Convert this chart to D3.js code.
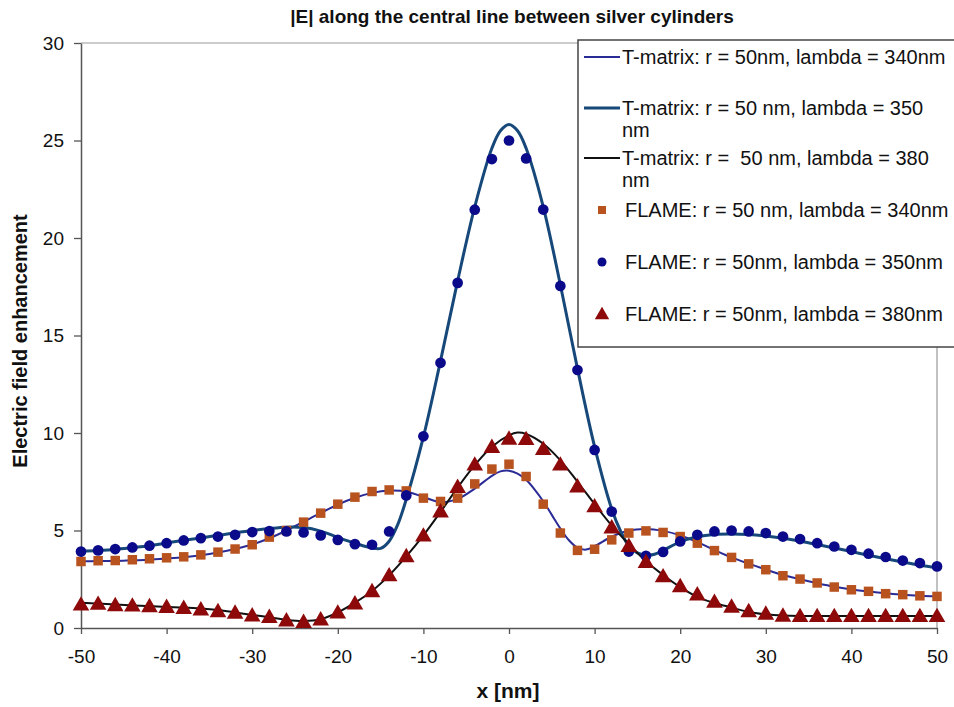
<!DOCTYPE html>
<html>
<head>
<meta charset="utf-8">
<script src="https://cdn.jsdelivr.net/npm/d3@7"></script>
<style>
  body { margin: 0; background: #fff; }
  svg text { font-family: "Liberation Sans", Arial, sans-serif; }
</style>
</head>
<body>
<div id="chart"></div>
<script>
// FLAME samples, every 2 nm from -50 to 50
var flameX = d3.range(-50, 51, 2);
var flame340 = [3.41, 3.45, 3.46, 3.5, 3.55, 3.6, 3.65, 3.75, 3.89, 4.05, 4.27, 4.66, 5.0, 5.43, 5.89, 6.35, 6.71, 7.0, 7.08, 7.03, 6.66, 6.49, 6.66, 7.39, 8.15,
  8.4, 7.77, 6.35, 4.87, 3.98, 4.04, 4.52, 4.87, 4.98, 4.9, 4.69, 4.35, 3.97, 3.62, 3.29, 2.99, 2.68, 2.51, 2.31, 2.1, 1.96, 1.88, 1.76, 1.71, 1.65, 1.62];
var flame350 = [3.92, 3.98, 4.05, 4.13, 4.22, 4.35, 4.49, 4.61, 4.69, 4.78, 4.92, 4.97, 4.95, 4.9, 4.75, 4.52, 4.3, 4.27, 4.95, 6.8, 9.83, 13.6, 17.7, 21.45, 24.05,
  25.0, 24.08, 21.46, 17.54, 13.23, 9.13, 5.97, 3.92, 3.7, 3.9, 4.44, 4.78, 4.95, 5.0, 4.95, 4.87, 4.69, 4.56, 4.35, 4.18, 4.01, 3.81, 3.64, 3.46, 3.33, 3.16];
var flame380 = [1.19, 1.23, 1.16, 1.14, 1.11, 1.07, 1.02, 0.94, 0.85, 0.77, 0.63, 0.56, 0.38, 0.3, 0.43, 0.78, 1.25, 1.88, 2.69, 3.67, 4.73, 5.97, 7.22, 8.37, 9.27,
  9.7, 9.68, 9.17, 8.37, 7.25, 6.23, 5.15, 4.2, 3.38, 2.64, 2.13, 1.71, 1.33, 1.08, 0.85, 0.72, 0.62, 0.6, 0.6, 0.6, 0.6, 0.6, 0.6, 0.6, 0.6, 0.6];

// T-matrix curves
var tm340X = [-50, -48, -46, -44, -42, -40, -38, -36, -34, -32, -30, -28, -26, -24, -22, -20, -18, -16, -14, -12, -10, -8, -6, -4, -2, -1, 0, 1, 2, 3, 4, 5, 6, 7, 8, 9, 10, 12, 14, 16, 18, 20, 22, 24, 26, 28, 30, 32, 34, 36, 38, 40, 42, 44, 46, 48, 50];
var tm340 = [3.42, 3.43, 3.44, 3.47, 3.5, 3.56, 3.63, 3.73, 3.87, 4.05, 4.28, 4.6, 5.0, 5.45, 5.9, 6.33, 6.68, 6.93, 7.05, 7.0, 6.72, 6.45, 6.62, 7.15, 7.8, 8.03,
  8.07, 7.92, 7.6, 7.1, 6.5, 5.8, 5.1, 4.5, 4.12, 4.02, 4.2, 4.68, 5.0, 5.08, 4.98, 4.75, 4.4, 4.0, 3.62, 3.3, 3.0, 2.72, 2.5, 2.3, 2.12, 1.98, 1.87, 1.78, 1.7, 1.65, 1.62];
var tm350X = [-50, -48, -46, -44, -42, -40, -38, -36, -34, -32, -30, -28, -26, -24, -22, -20, -18, -16, -15, -14, -13, -12, -10, -8, -6, -4, -2, -1, 0, 1, 2, 4, 6, 8, 10, 12, 13, 14, 15, 16, 17, 18, 20, 22, 24, 26, 28, 30, 32, 34, 36, 38, 40, 42, 44, 46, 48, 50];
var tm350 = [3.95, 3.98, 4.03, 4.12, 4.22, 4.36, 4.5, 4.62, 4.75, 4.88, 5.0, 5.1, 5.17, 5.15, 4.97, 4.65, 4.35, 4.1, 4.08, 4.45, 5.3, 6.6, 9.8, 13.7, 17.8, 21.6, 24.6, 25.5,
  25.82, 25.5, 24.6, 21.6, 17.6, 13.3, 9.3, 6.1, 5.0, 4.2, 3.85, 3.72, 3.78, 3.98, 4.42, 4.68, 4.8, 4.82, 4.8, 4.72, 4.6, 4.45, 4.28, 4.1, 3.92, 3.73, 3.55, 3.38, 3.22, 3.1];
var tm380X = [-50, -48, -46, -44, -42, -40, -38, -36, -34, -32, -30, -28, -26, -24, -22, -20, -18, -16, -14, -12, -10, -8, -6, -4, -2, 0, 1, 2, 4, 6, 8, 10, 12, 14, 16, 18, 20, 22, 24, 26, 28, 30, 32, 34, 36, 38, 40, 42, 44, 46, 48, 50];
var tm380 = [1.3, 1.25, 1.2, 1.16, 1.12, 1.08, 1.05, 1.0, 0.92, 0.8, 0.67, 0.55, 0.42, 0.36, 0.45, 0.8, 1.3, 1.9, 2.7, 3.67, 4.75, 5.95, 7.2, 8.35, 9.3, 9.88,
  10.02, 9.95, 9.45, 8.6, 7.5, 6.35, 5.25, 4.3, 3.42, 2.72, 2.1, 1.6, 1.28, 1.05, 0.82, 0.7, 0.64, 0.62, 0.62, 0.62, 0.62, 0.62, 0.62, 0.62, 0.62, 0.62];

var xTicks = d3.range(-50, 51, 10);
var yTicks = d3.range(0, 31, 5);
var legendLabels = [
  ["T-matrix: r = 50nm, lambda = 340nm"],
  ["T-matrix: r = 50 nm, lambda = 350", "nm"],
  ["T-matrix: r =  50 nm, lambda = 380", "nm"],
  ["FLAME: r = 50 nm, lambda = 340nm"],
  ["FLAME: r = 50nm, lambda = 350nm"],
  ["FLAME: r = 50nm, lambda = 380nm"]
];

var width = 954, height = 707;
var plotL = 81, plotR = 937, plotT = 43, plotB = 628;

var svg = d3.select("#chart").append("svg")
  .attr("width", width)
  .attr("height", height);

var x = d3.scaleLinear().domain([-50, 50]).range([plotL, plotR]);
var y = d3.scaleLinear().domain([0, 30]).range([plotB, plotT]);

// plot frame (top/right light gray)
svg.append("path")
  .attr("d", "M" + plotL + "," + plotT + "H" + plotR + "V" + plotB)
  .attr("fill", "none")
  .attr("stroke", "#999")
  .attr("stroke-width", 1.2);

var gx = svg.append("g")
  .attr("transform", "translate(0," + plotB + ")")
  .call(d3.axisBottom(x).tickValues(xTicks).tickFormat(function(d) { return String(d); })
    .tickSize(6).tickPadding(16).tickSizeOuter(0));
var gy = svg.append("g")
  .attr("transform", "translate(" + plotL + ",0)")
  .call(d3.axisLeft(y).tickValues(yTicks).tickFormat(function(d) { return String(d); })
    .tickSize(7).tickPadding(10).tickSizeOuter(0));
[gx, gy].forEach(function(g) {
  g.select(".domain").attr("stroke", "#555").attr("stroke-width", 1.5);
  g.selectAll(".tick line").attr("stroke", "#555").attr("stroke-width", 1.3);
  g.selectAll("text").attr("font-size", 19).attr("fill", "#111")
    .style("font-family", "'Liberation Sans', Arial, sans-serif");
});

function curve(xs, vs) {
  return d3.line()
    .x(function(d, i) { return x(xs[i]); })
    .y(function(d) { return y(d); })
    .curve(d3.curveCatmullRom.alpha(0.5))(vs);
}

svg.append("path").attr("d", curve(tm340X, tm340))
  .attr("fill", "none").attr("stroke", "#2b2b96").attr("stroke-width", 2);
svg.append("path").attr("d", curve(tm350X, tm350))
  .attr("fill", "none").attr("stroke", "#17487a").attr("stroke-width", 3);
svg.append("path").attr("d", curve(tm380X, tm380))
  .attr("fill", "none").attr("stroke", "#111").attr("stroke-width", 2);

var sq = d3.symbol().type(d3.symbolSquare).size(90);
var circ = d3.symbol().type(d3.symbolCircle).size(90);
var tri = d3.symbol().type(d3.symbolTriangle).size(120);

svg.selectAll(".f340").data(flame340).enter().append("path")
  .attr("d", sq)
  .attr("transform", function(d, i) { return "translate(" + x(flameX[i]) + "," + y(d) + ")"; })
  .attr("fill", "#b8531f");
svg.selectAll(".f350").data(flame350).enter().append("path")
  .attr("d", circ)
  .attr("transform", function(d, i) { return "translate(" + x(flameX[i]) + "," + y(d) + ")"; })
  .attr("fill", "#0a0a8a");
svg.selectAll(".f380").data(flame380).enter().append("path")
  .attr("d", tri)
  .attr("transform", function(d, i) { return "translate(" + x(flameX[i]) + "," + (y(d) + 1) + ")"; })
  .attr("fill", "#8e0a0a");

// legend
var lg = svg.append("g");
lg.append("rect")
  .attr("x", 578).attr("y", 40).attr("width", 420).attr("height", 307)
  .attr("fill", "#fff").attr("stroke", "#444").attr("stroke-width", 1.5);
var rowY = [57, 108, 158, 210, 262, 314];
var lineStyles = [["#2b2b96", 2], ["#17487a", 3], ["#111", 2]];
lineStyles.forEach(function(s, i) {
  lg.append("line").attr("x1", 584).attr("x2", 620).attr("y1", rowY[i]).attr("y2", rowY[i])
    .attr("stroke", s[0]).attr("stroke-width", s[1]);
});
lg.append("path").attr("d", d3.symbol().type(d3.symbolSquare).size(64))
  .attr("transform", "translate(602," + rowY[3] + ")").attr("fill", "#b8531f");
lg.append("path").attr("d", d3.symbol().type(d3.symbolCircle).size(64))
  .attr("transform", "translate(602," + rowY[4] + ")").attr("fill", "#0a0a8a");
lg.append("path").attr("d", d3.symbol().type(d3.symbolTriangle).size(90))
  .attr("transform", "translate(602," + (rowY[5] + 1) + ")").attr("fill", "#8e0a0a");
legendLabels.forEach(function(lines, i) {
  lines.forEach(function(t, j) {
    lg.append("text")
      .attr("x", i < 3 ? 622 : 625)
      .attr("y", rowY[i] + j * 22)
      .attr("dy", "0.35em")
      .attr("font-size", 20)
      .attr("fill", "#111")
      .style("white-space", "pre")
      .text(t);
  });
});

// titles
svg.append("text")
  .attr("x", 512).attr("y", 23)
  .attr("text-anchor", "middle")
  .attr("font-size", 19).attr("font-weight", "bold").attr("fill", "#111")
  .text("|E| along the central line between silver cylinders");
svg.append("text")
  .attr("transform", "translate(27,341) rotate(-90)")
  .attr("text-anchor", "middle")
  .attr("font-size", 20).attr("font-weight", "bold").attr("fill", "#111")
  .text("Electric field enhancement");
svg.append("text")
  .attr("x", 508).attr("y", 698)
  .attr("text-anchor", "middle")
  .attr("font-size", 21).attr("font-weight", "bold").attr("fill", "#111")
  .text("x [nm]");
</script>
</body>
</html>
